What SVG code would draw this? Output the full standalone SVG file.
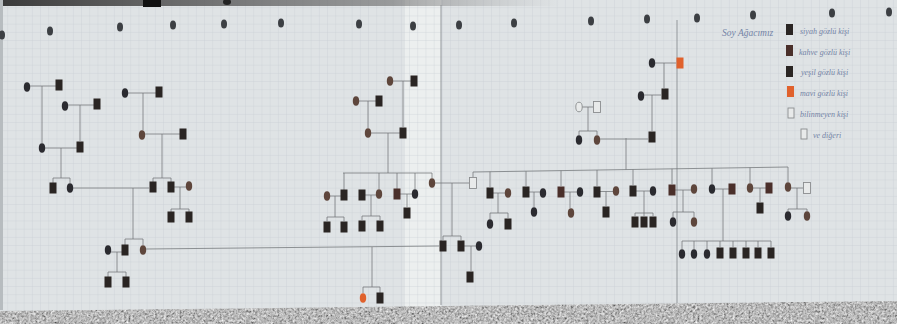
<svg xmlns="http://www.w3.org/2000/svg" width="897" height="324" viewBox="0 0 897 324">
<defs>
<pattern id="grid" width="8.2" height="8.2" patternUnits="userSpaceOnUse">
<path d="M8.2 0V8.2H0" fill="none" stroke="#c3cbcf" stroke-width="0.6"/>
</pattern>
<linearGradient id="topShade" x1="0" y1="0" x2="1" y2="0">
<stop offset="0" stop-color="#3a3a3a"/>
<stop offset="0.7" stop-color="#6a6a6a" stop-opacity="0.6"/>
<stop offset="1" stop-color="#9a9a9a" stop-opacity="0"/>
</linearGradient>
<clipPath id="carpetClip"><polygon points="0,311 897,301 897,324 0,324"/></clipPath>
<filter id="noise" x="0" y="0" width="100%" height="100%">
<feTurbulence type="fractalNoise" baseFrequency="0.45" numOctaves="3" result="t"/>
<feColorMatrix in="t" type="matrix" values="0.7 0.7 0 0 -0.22  0.7 0.7 0 0 -0.22  0.7 0.7 0 0 -0.22  0 0 0 0 1"/>
</filter>
<style>
.m{fill:#2a2523}
.mb{fill:#4a2f2a}
.f{fill:#2b2b30}
.fb{fill:#5e463c}
.o{fill:#e0612c}
.u{fill:#e8eaea;stroke:#8a8d8f;stroke-width:0.9}
.dot{fill:#3c3f43}
.cn path{fill:none;stroke:#707477;stroke-width:0.75}
.page{stroke:#8a8f92;stroke-width:0.9}
.hw{font-family:"Liberation Serif",serif;font-style:italic;font-size:8px;fill:#7483a6}
</style>
</defs>

<!-- paper -->
<rect width="897" height="324" fill="#dfe3e5"/>
<rect x="405" y="0" width="36" height="310" fill="#ecefef"/>
<rect width="897" height="324" fill="url(#grid)"/>
<rect x="0" y="0" width="560" height="6" fill="url(#topShade)"/>
<rect x="143" y="0" width="18" height="7" fill="#111"/>
<ellipse cx="227" cy="2" rx="4" ry="3" fill="#222"/>
<rect x="0" y="0" width="3" height="310" fill="#b7bcbf"/>
<!-- carpet -->
<g clip-path="url(#carpetClip)">
<rect x="0" y="298" width="897" height="26" filter="url(#noise)"/>
</g>
<line class="page" x1="441" y1="5" x2="441" y2="305"/>
<line class="page" x1="677" y1="20" x2="677" y2="303"/>

<!-- top row dots -->
<g id="topdots" class="dot">
<ellipse cx="2" cy="35" rx="3" ry="4.5"/><ellipse cx="50" cy="31" rx="3" ry="4.5"/><ellipse cx="120" cy="27" rx="3" ry="4.5"/><ellipse cx="173" cy="25" rx="3" ry="4.5"/><ellipse cx="224" cy="24" rx="3" ry="4.5"/><ellipse cx="281" cy="23" rx="3" ry="4.5"/><ellipse cx="359" cy="24" rx="3" ry="4.5"/><ellipse cx="413" cy="26" rx="3" ry="4.5"/><ellipse cx="459" cy="25" rx="3" ry="4.5"/><ellipse cx="514" cy="23" rx="3" ry="4.5"/><ellipse cx="591" cy="21" rx="3" ry="4.5"/><ellipse cx="647" cy="19" rx="3" ry="4.5"/><ellipse cx="697" cy="18" rx="3" ry="4.5"/><ellipse cx="753" cy="15" rx="3" ry="4.5"/><ellipse cx="832" cy="13" rx="3" ry="4.5"/><ellipse cx="889" cy="12" rx="3" ry="4.5"/>
</g>

<!-- connectors -->
<g id="connectors" class="cn">
<path d="M30 86H56M42 86V143"/>
<path d="M68 105H94M80 105V141"/>
<path d="M45 148H77M61 148V178M53 178H70M53 178V183M70 178V183"/>
<path d="M128 93H156M143 93V130"/>
<path d="M145 134H180M162 134V178M153 178H171M153 178V182M171 178V182"/>
<path d="M73 188H149M133 188V239M125 239H143M125 239V245M143 239V245"/>
<path d="M111 252H122M117 252V272M108 272H126M108 272V277M126 272V277"/>
<path d="M174 187H186M180 187V209M171 209H189M171 209V212M189 209V212"/>
<path d="M146 249L439 246M372 247V287M363 287H380M363 287V293M380 287V293"/>
<path d="M393 81H411M403 81V127"/>
<path d="M359 101H376M368 101V128"/>
<path d="M371 133H400M388 133V173"/>
<path d="M343 173H432M344 173V190M379 173V189M397 173V189M415 173V189M432 173V178"/>
<path d="M330 196H341M335 196V217M327 217H344M327 217V221M344 217V221"/>
<path d="M365 195H376M371 195V216M362 216H380M362 216V220M380 216V220"/>
<path d="M400 194H412M407 194V207"/>
<path d="M435 183H469M452 183V236M443 236H461M443 236V240M461 236V240"/>
<path d="M464 246H476M471 246V271"/>
<path d="M655 63H676M664 63V88"/>
<path d="M644 95H661M652 95V131"/>
<path d="M582 107H593M588 107V131M579 131H597M579 131V135M597 131V135"/>
<path d="M600 139H648M626 138V169.6"/>
<path d="M473 172L788 167M473 172V177M490 171.7V187M526 171.2V186M561 170.6V186M597 170V186M633 169.5V185M672 168.8V184M712 168.2V184M750 167.6V183M788 167V182"/>
<path d="M493 193H505M498 193V213M490 213H508M490 213V219M508 213V218"/>
<path d="M529 192H540M534 192V207"/>
<path d="M564 192H577M570 192V208"/>
<path d="M600 191.5H613M606 191.5V206"/>
<path d="M636 191H650M644 191V213M635 213H653M635 213V216M644 213V216M653 213V216"/>
<path d="M675 190H691M683 190V212M673 212H694M673 212V217M694 212V217"/>
<path d="M715 189H729M723 189V241M682 241H771M682 241V249M694 241V249M707 241V249M720 241V247M733 241V247M746 241V247M758 241V247M771 241V247"/>
<path d="M753 188H766M760 188V202"/>
<path d="M791 188H803M797 188V209M788 209H807M788 209V211M807 209V211"/>
</g>

<!-- left family -->
<g id="L1"><ellipse class="f" cx="27" cy="87" rx="3.2" ry="4.8"/></g>
<g id="L2"><rect class="m" x="55.5" y="79.5" width="7" height="11"/></g>
<g id="L3"><ellipse class="f" cx="65" cy="106" rx="3.2" ry="4.8"/></g>
<g id="L4"><rect class="m" x="93.5" y="98.5" width="7" height="11"/></g>
<g id="L5"><ellipse class="f" cx="42" cy="148" rx="3.2" ry="4.8"/></g>
<g id="L6"><rect class="m" x="76.5" y="141.5" width="7" height="11"/></g>
<g id="L7"><ellipse class="f" cx="125" cy="93" rx="3.2" ry="4.8"/></g>
<g id="L8"><rect class="m" x="155.5" y="86.5" width="7" height="11"/></g>
<g id="L9"><ellipse class="fb" cx="142" cy="135" rx="3.2" ry="4.8"/></g>
<g id="L10"><rect class="m" x="179.5" y="128.5" width="7" height="11"/></g>
<g id="L11"><rect class="m" x="49.5" y="182.5" width="7" height="11"/></g>
<g id="L12"><ellipse class="f" cx="70" cy="188" rx="3.2" ry="4.8"/></g>
<g id="L13"><rect class="m" x="149.5" y="181.5" width="7" height="11"/></g>
<g id="L14"><rect class="m" x="167.5" y="181.5" width="7" height="11"/></g>
<g id="L15"><ellipse class="fb" cx="189" cy="186" rx="3.2" ry="4.8"/></g>
<g id="L16"><rect class="m" x="167.5" y="211.5" width="7" height="11"/></g>
<g id="L17"><rect class="m" x="185.5" y="211.5" width="7" height="11"/></g>
<g id="L18"><ellipse class="f" cx="108" cy="250" rx="3.2" ry="4.8"/></g>
<g id="L19"><rect class="m" x="121.5" y="244.5" width="7" height="11"/></g>
<g id="L20"><ellipse class="fb" cx="143" cy="250" rx="3.2" ry="4.8"/></g>
<g id="L21"><rect class="m" x="104.5" y="276.5" width="7" height="11"/></g>
<g id="L22"><rect class="m" x="122.5" y="276.5" width="7" height="11"/></g>

<!-- center family -->
<g id="C1"><ellipse class="fb" cx="390" cy="81" rx="3.2" ry="4.8"/></g>
<g id="C2"><rect class="m" x="410.5" y="75.5" width="7" height="11"/></g>
<g id="C3"><ellipse class="fb" cx="356" cy="101" rx="3.2" ry="4.8"/></g>
<g id="C4"><rect class="m" x="375.5" y="95.5" width="7" height="11"/></g>
<g id="C5"><ellipse class="fb" cx="368" cy="133" rx="3.2" ry="4.8"/></g>
<g id="C6"><rect class="m" x="399.5" y="127.5" width="7" height="11"/></g>
<g id="C7"><ellipse class="fb" cx="327" cy="196" rx="3.2" ry="4.8"/></g>
<g id="C8"><rect class="m" x="340.5" y="189.5" width="7" height="11"/></g>
<g id="C9"><rect class="m" x="358.5" y="189.5" width="7" height="11"/></g>
<g id="C10"><ellipse class="fb" cx="379" cy="194" rx="3.2" ry="4.8"/></g>
<g id="C11"><rect class="mb" x="393.5" y="188.5" width="7" height="11"/></g>
<g id="C12"><ellipse class="f" cx="415" cy="194" rx="3.2" ry="4.8"/></g>
<g id="C13"><ellipse class="fb" cx="432" cy="183" rx="3.2" ry="4.8"/></g>
<g id="C14"><rect class="u" x="469.5" y="177.5" width="7" height="11"/></g>
<g id="C15"><rect class="m" x="323.5" y="221.5" width="7" height="11"/></g>
<g id="C16"><rect class="m" x="340.5" y="221.5" width="7" height="11"/></g>
<g id="C17"><rect class="m" x="358.5" y="220.5" width="7" height="11"/></g>
<g id="C18"><rect class="m" x="376.5" y="220.5" width="7" height="11"/></g>
<g id="C19"><rect class="m" x="403.5" y="207.5" width="7" height="11"/></g>
<g id="C20"><rect class="m" x="439.5" y="240.5" width="7" height="11"/></g>
<g id="C21"><rect class="m" x="457.5" y="240.5" width="7" height="11"/></g>
<g id="C22"><ellipse class="f" cx="479" cy="246" rx="3.2" ry="4.8"/></g>
<g id="C23"><rect class="m" x="466.5" y="271.5" width="7" height="11"/></g>
<g id="C24"><ellipse class="o" cx="363" cy="298" rx="3.2" ry="4.8"/></g>
<g id="C25"><rect class="m" x="376.5" y="292.5" width="7" height="11"/></g>

<!-- right family -->
<g id="R1"><ellipse class="f" cx="652" cy="63" rx="3.2" ry="4.8"/></g>
<g id="R2"><rect class="o" x="676.5" y="57.5" width="7" height="11"/></g>
<g id="R3"><ellipse class="f" cx="641" cy="96" rx="3.2" ry="4.8"/></g>
<g id="R4"><rect class="m" x="661.5" y="88.5" width="7" height="11"/></g>
<g id="R5"><ellipse class="u" cx="579" cy="107" rx="3.2" ry="4.8"/></g>
<g id="R6"><rect class="u" x="593.5" y="101.5" width="7" height="11"/></g>
<g id="R7"><ellipse class="f" cx="579" cy="140" rx="3.2" ry="4.8"/></g>
<g id="R8"><ellipse class="fb" cx="597" cy="140" rx="3.2" ry="4.8"/></g>
<g id="R9"><rect class="m" x="648.5" y="131.5" width="7" height="11"/></g>
<g id="R10"><rect class="m" x="486.5" y="187.5" width="7" height="11"/></g>
<g id="R11"><ellipse class="fb" cx="508" cy="193" rx="3.2" ry="4.8"/></g>
<g id="R12"><rect class="m" x="522.5" y="186.5" width="7" height="11"/></g>
<g id="R13"><ellipse class="f" cx="543" cy="193" rx="3.2" ry="4.8"/></g>
<g id="R14"><rect class="mb" x="557.5" y="186.5" width="7" height="11"/></g>
<g id="R15"><ellipse class="f" cx="580" cy="192" rx="3.2" ry="4.8"/></g>
<g id="R16"><rect class="m" x="593.5" y="186.5" width="7" height="11"/></g>
<g id="R17"><ellipse class="fb" cx="616" cy="191" rx="3.2" ry="4.8"/></g>
<g id="R18"><rect class="m" x="629.5" y="185.5" width="7" height="11"/></g>
<g id="R19"><ellipse class="f" cx="653" cy="191" rx="3.2" ry="4.8"/></g>
<g id="R20"><rect class="mb" x="668.5" y="184.5" width="7" height="11"/></g>
<g id="R21"><ellipse class="fb" cx="694" cy="189" rx="3.2" ry="4.8"/></g>
<g id="R22"><ellipse class="f" cx="712" cy="189" rx="3.2" ry="4.8"/></g>
<g id="R23"><rect class="mb" x="728.5" y="183.5" width="7" height="11"/></g>
<g id="R24"><ellipse class="fb" cx="750" cy="188" rx="3.2" ry="4.8"/></g>
<g id="R25"><rect class="mb" x="765.5" y="182.5" width="7" height="11"/></g>
<g id="R26"><ellipse class="fb" cx="788" cy="187" rx="3.2" ry="4.8"/></g>
<g id="R27"><rect class="u" x="803.5" y="182.5" width="7" height="11"/></g>
<g id="R28"><ellipse class="f" cx="490" cy="224" rx="3.2" ry="4.8"/></g>
<g id="R29"><rect class="m" x="504.5" y="218.5" width="7" height="11"/></g>
<g id="R30"><ellipse class="f" cx="534" cy="212" rx="3.2" ry="4.8"/></g>
<g id="R31"><ellipse class="fb" cx="571" cy="213" rx="3.2" ry="4.8"/></g>
<g id="R32"><rect class="m" x="602.5" y="206.5" width="7" height="11"/></g>
<g id="R33"><rect class="m" x="631.5" y="216.5" width="7" height="11"/></g>
<g id="R34"><rect class="m" x="640.5" y="216.5" width="7" height="11"/></g>
<g id="R35"><rect class="m" x="649.5" y="216.5" width="7" height="11"/></g>
<g id="R36"><ellipse class="f" cx="673" cy="222" rx="3.2" ry="4.8"/></g>
<g id="R37"><ellipse class="fb" cx="694" cy="222" rx="3.2" ry="4.8"/></g>
<g id="R38"><rect class="m" x="756.5" y="202.5" width="7" height="11"/></g>
<g id="R39"><ellipse class="f" cx="788" cy="216" rx="3.2" ry="4.8"/></g>
<g id="R40"><ellipse class="fb" cx="807" cy="216" rx="3.2" ry="4.8"/></g>
<g id="R41"><ellipse class="f" cx="682" cy="254" rx="3.2" ry="4.8"/></g>
<g id="R42"><ellipse class="f" cx="694" cy="254" rx="3.2" ry="4.8"/></g>
<g id="R43"><ellipse class="f" cx="707" cy="254" rx="3.2" ry="4.8"/></g>
<g id="R44"><rect class="m" x="716.5" y="247.5" width="7" height="11"/></g>
<g id="R45"><rect class="m" x="729.5" y="247.5" width="7" height="11"/></g>
<g id="R46"><rect class="m" x="742.5" y="247.5" width="7" height="11"/></g>
<g id="R47"><rect class="m" x="754.5" y="247.5" width="7" height="11"/></g>
<g id="R48"><rect class="m" x="767.5" y="247.5" width="7" height="11"/></g>

<!-- legend -->
<g id="legend">
<text class="hw" x="722" y="36" style="font-size:9.5px">Soy Ağacımız</text>
<rect class="m" x="786" y="24" width="7" height="11"/><text class="hw" x="800" y="34">siyah gözlü kişi</text>
<rect class="mb" x="786" y="45" width="7" height="11"/><text class="hw" x="799" y="55">kahve gözlü kişi</text>
<rect class="m" x="786" y="66" width="7" height="11"/><text class="hw" x="801" y="75">yeşil gözlü kişi</text>
<rect class="o" x="787" y="86" width="7" height="11"/><text class="hw" x="800" y="96">mavi gözlü kişi</text>
<rect class="u" x="788" y="108" width="6" height="10"/><text class="hw" x="800" y="117">bilinmeyen kişi</text>
<rect class="u" x="801" y="129" width="6" height="10"/><text class="hw" x="813" y="138">ve diğeri</text>
</g>
</svg>
